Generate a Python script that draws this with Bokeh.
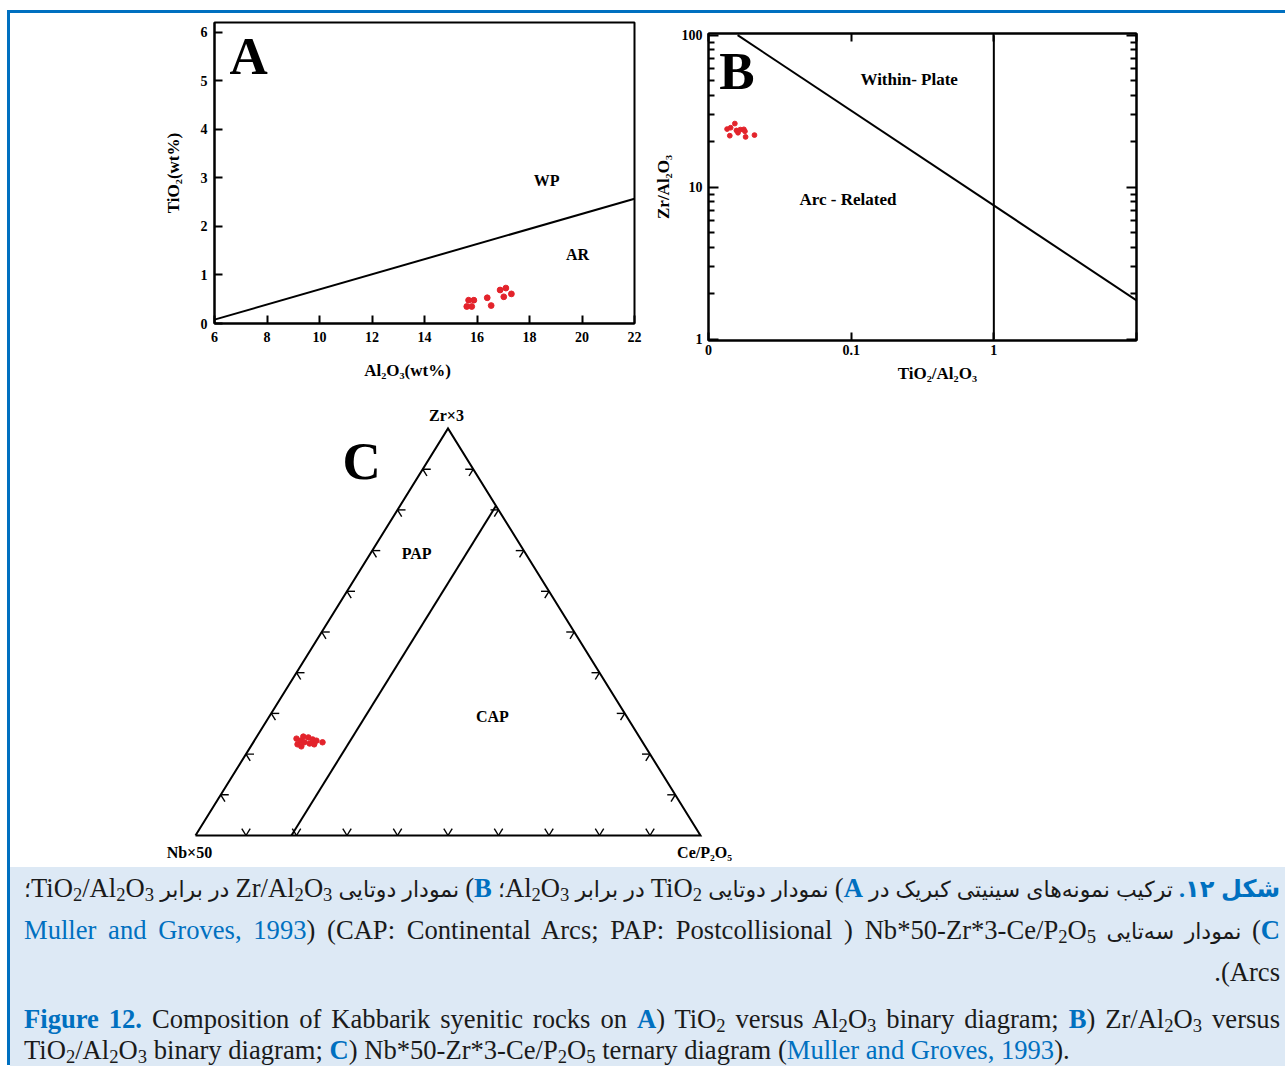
import numpy as np
from bokeh.plotting import figure
from bokeh.models import Range1d, FixedTicker, LogAxis, Label, Div
from bokeh.layouts import column, row
from bokeh.embed import file_html
from bokeh.resources import INLINE

FONT = "Liberation Serif"
RED = "#e3232b"
BLUE = "#0070c0"
NB = "\u00a0"

# ---------------- Panel A : TiO2 vs Al2O3 ----------------
a_al2o3 = [15.68, 15.88, 15.61, 15.80, 16.39, 16.54, 16.88, 17.10, 17.02, 17.31]
a_tio2 = [0.48, 0.48, 0.35, 0.35, 0.53, 0.37, 0.69, 0.73, 0.55, 0.61]
a_boundary_x = [6, 22]
a_boundary_y = [0.08, 2.57]
a_x_ticks = [6, 8, 10, 12, 14, 16, 18, 20, 22]
a_y_ticks = [0, 1, 2, 3, 4, 5, 6]

# ---------------- Panel B : Zr/Al2O3 vs TiO2/Al2O3 ----------------
b_tio2_al2o3 = [0.0135, 0.0143, 0.0153, 0.0157, 0.0161, 0.0167, 0.0177, 0.0180,
                0.0182, 0.0141, 0.0210]
b_zr_al2o3 = [24.1, 24.6, 26.2, 23.6, 22.8, 23.9, 24.0, 23.3, 21.4, 21.8, 22.0]
b_boundary_x = [0.016, 10]
b_boundary_y = [100, 1.8]
b_vline_x = [1, 1]
b_vline_y = [1, 100]
b_x_ticks = [0.01, 0.1, 1, 10]
b_x_tick_labels = ["0", "0.1", "1", ""]
b_y_ticks = [1, 10, 100]
b_y_tick_labels = ["1", "10", "100"]
b_y_minor_ticks = [2, 3, 4, 5, 6, 7, 8, 9, 20, 30, 40, 50, 60, 70, 80, 90]

# ---------------- Panel C : ternary Nb*50 - Zr*3 - Ce/P2O5 ----------------
c_nb50 = [68.1, 68.6, 67.5, 68.1, 66.5, 67.0, 65.6, 66.1, 65.0, 65.3, 64.4, 63.4]
c_zr3 = [23.8, 22.4, 23.3, 21.9, 24.3, 22.9, 24.1, 22.6, 23.6, 22.4, 23.3, 22.9]
c_cep2o5 = [8.1, 9.0, 9.2, 10.0, 9.2, 10.1, 10.3, 11.3, 11.4, 12.3, 12.3, 13.7]
c_boundary_ce = 19.0          # PAP / CAP boundary: constant Ce/P2O5 (%)
c_tick_fracs = [0.1, 0.2, 0.3, 0.4, 0.5, 0.6, 0.7, 0.8, 0.9]


def tern_xy(nb, zr, ce):
    nb = np.asarray(nb, float)
    zr = np.asarray(zr, float)
    ce = np.asarray(ce, float)
    s = nb + zr + ce
    return (ce + zr / 2.0) / s, zr / s


def style_axis(ax, tick_in=7, label_standoff=6, axis_standoff=10, size="14px"):
    ax.axis_line_width = 2
    ax.axis_line_color = "black"
    ax.major_tick_in = tick_in
    ax.major_tick_out = 0
    ax.major_tick_line_width = 2
    ax.major_tick_line_color = "black"
    ax.minor_tick_in = 0
    ax.minor_tick_out = 0
    ax.major_label_text_font = FONT
    ax.major_label_text_font_style = "bold"
    ax.major_label_text_font_size = size
    ax.major_label_text_color = "black"
    ax.major_label_standoff = label_standoff
    ax.axis_label_text_font = FONT
    ax.axis_label_text_font_style = "bold"
    ax.axis_label_text_font_size = "17px"
    ax.axis_label_text_color = "black"
    ax.axis_label_standoff = axis_standoff


def add_text(p, x, y, text, size):
    p.add_layout(Label(x=x, y=y, text=text, text_font=FONT, text_font_style="bold",
                       text_font_size=size, text_align="center", text_baseline="middle",
                       text_color="black"))


# ---------- figure A ----------
p_a = figure(width=640, height=382, x_range=Range1d(6, 22), y_range=Range1d(0, 6.2),
             output_backend="svg", toolbar_location=None, title=None,
             min_border_left=204, min_border_right=16, min_border_top=9, min_border_bottom=72)
p_a.frame_align = False
p_a.grid.visible = False
p_a.outline_line_color = "black"
p_a.outline_line_width = 2
p_a.xaxis.ticker = FixedTicker(ticks=a_x_ticks)
p_a.yaxis.ticker = FixedTicker(ticks=a_y_ticks)
p_a.xaxis.axis_label = "Al₂O₃(wt%)" + NB * 8
p_a.yaxis.axis_label = "TiO₂(wt%)"
style_axis(p_a.xaxis[0], tick_in=8, label_standoff=8, axis_standoff=16)
style_axis(p_a.yaxis[0], tick_in=8, label_standoff=7, axis_standoff=15)
p_a.line(a_boundary_x, a_boundary_y, line_color="black", line_width=2)
p_a.scatter(a_al2o3, a_tio2, size=5.8, fill_color=RED, line_color=RED)
add_text(p_a, 7.30, 5.52, "A", "53px")
add_text(p_a, 18.65, 2.95, "WP", "16px")
add_text(p_a, 19.83, 1.42, "AR", "16px")

# ---------- figure B ----------
p_b = figure(width=635, height=382, x_axis_type="log", y_axis_type="log",
             x_range=Range1d(0.01, 10), y_range=Range1d(0.98, 102.5),
             output_backend="svg", toolbar_location=None, title=None,
             min_border_left=50, min_border_right=149, min_border_top=20, min_border_bottom=55)
p_b.frame_align = False
p_b.grid.visible = False
p_b.outline_line_color = "black"
p_b.outline_line_width = 2
p_b.xaxis.ticker = FixedTicker(ticks=b_x_ticks)
p_b.xaxis.major_label_overrides = dict(zip(b_x_ticks, b_x_tick_labels))
p_b.yaxis.ticker = FixedTicker(ticks=b_y_ticks, minor_ticks=b_y_minor_ticks)
p_b.yaxis.major_label_overrides = dict(zip(b_y_ticks, b_y_tick_labels))
p_b.xaxis.axis_label = NB * 7 + "TiO₂/Al₂O₃"
p_b.yaxis.axis_label = "Zr/Al₂O₃"
style_axis(p_b.xaxis[0], tick_in=8, label_standoff=4, axis_standoff=6)
style_axis(p_b.yaxis[0], tick_in=10, label_standoff=6, axis_standoff=6)
p_b.yaxis.minor_tick_in = 6
p_b.yaxis.minor_tick_line_width = 2
p_b.yaxis.minor_tick_line_color = "black"

right_ax = LogAxis(ticker=FixedTicker(ticks=b_y_ticks, minor_ticks=b_y_minor_ticks),
                   major_label_overrides={t: "" for t in b_y_ticks})
style_axis(right_ax, tick_in=10)
right_ax.minor_tick_in = 6
right_ax.minor_tick_line_width = 2
right_ax.minor_tick_line_color = "black"
p_b.add_layout(right_ax, "right")
top_ax = LogAxis(ticker=FixedTicker(ticks=b_x_ticks),
                 major_label_overrides={t: "" for t in b_x_ticks})
style_axis(top_ax, tick_in=8)
p_b.add_layout(top_ax, "above")

p_b.line(b_vline_x, b_vline_y, line_color="black", line_width=2)
p_b.line(b_boundary_x, b_boundary_y, line_color="black", line_width=2)
p_b.scatter(b_tio2_al2o3, b_zr_al2o3, size=4.8, fill_color=RED, line_color=RED)
add_text(p_b, 0.0158, 58.0, "B", "53px")
add_text(p_b, 0.255, 51.2, "Within- Plate", "17px")
add_text(p_b, 0.0950, 8.28, "Arc - Related", "17px")

# ---------- figure C (ternary) ----------
cx0, cx1 = -0.36634, 2.15842
cy0, cy1 = -0.07617, 1.08108
C_W, C_H = 1275, 471
p_c = figure(width=C_W, height=C_H, x_range=Range1d(cx0, cx1), y_range=Range1d(cy0, cy1),
             output_backend="svg", toolbar_location=None, title=None,
             x_axis_location=None, y_axis_location=None, min_border=0)
p_c.frame_align = False
p_c.grid.visible = False
p_c.outline_line_color = None

tx, ty = tern_xy([100, 0, 0, 100], [0, 100, 0, 0], [0, 0, 100, 0])
p_c.line(tx, ty, line_color="black", line_width=2, line_join="miter")
bx, by = tern_xy([100 - c_boundary_ce, 0], [0, 100 - c_boundary_ce], [c_boundary_ce, c_boundary_ce])
p_c.line(bx, by, line_color="black", line_width=2)

# chevron ticks every 10 % along the edges
sx = C_W / (cx1 - cx0)
sy = C_H / (cy1 - cy0)
ARM = 8.0


def unit(dx_px, dy_px):
    n = np.hypot(dx_px, dy_px)
    return (dx_px / n) * ARM / sx, (dy_px / n) * ARM / sy


u_left = unit(0.5 * sx, sy)      # parallel to left edge, upward
u_right = unit(-0.5 * sx, sy)    # parallel to right edge, upward
u_h = unit(sx, 0.0)              # horizontal
t = np.array(c_tick_fracs)
x0s, y0s, x1s, y1s = [], [], [], []
bxs, bys = tern_xy(1 - t, 0 * t, t)
for dx, dy in (u_left, u_right):
    x0s += list(bxs); y0s += list(bys)
    x1s += list(bxs + dx); y1s += list(bys + dy)
lxs, lys = tern_xy(1 - t, t, 0 * t)
for dx, dy in (u_h, (-u_right[0], -u_right[1])):
    x0s += list(lxs); y0s += list(lys)
    x1s += list(lxs + dx); y1s += list(lys + dy)
rxs, rys = tern_xy(0 * t, t, 1 - t)
for dx, dy in ((-u_h[0], -u_h[1]), (-u_left[0], -u_left[1])):
    x0s += list(rxs); y0s += list(rys)
    x1s += list(rxs + dx); y1s += list(rys + dy)
p_c.segment(x0s, y0s, x1s, y1s, line_color="black", line_width=1.4)

px, py = tern_xy(c_nb50, c_zr3, c_cep2o5)
p_c.scatter(px, py, size=5.5, fill_color=RED, line_color=RED)

add_text(p_c, 0.497, 1.032, "Zr×3", "16px")
add_text(p_c, -0.012, -0.042, "Nb×50", "16px")
add_text(p_c, 1.008, -0.042, "Ce/P₂O₅", "16px")
add_text(p_c, 0.329, 0.92, "C", "53px")
add_text(p_c, 0.438, 0.693, "PAP", "16px")
add_text(p_c, 0.588, 0.292, "CAP", "16px")

# ---------- caption ----------
TiO2 = "TiO<sub>2</sub>"
Al2O3 = "Al<sub>2</sub>O<sub>3</sub>"
P2O5 = "P<sub>2</sub>O<sub>5</sub>"


def la(s):
    return f"<span class='la'>{s}</span>"


def key(letter):
    return la(f"<b class='bl'>{letter}</b>)")


fa1 = (f"<b class='bl hd'>شکل ۱۲.</b> ترکیب نمونه\u200cهای سینیتی کبریک در "
       f"{key('A')} نمودار دوتایی {la(TiO2)} در برابر {la(Al2O3)}؛ "
       f"{key('B')} نمودار دوتایی {la('Zr/' + Al2O3)} در برابر "
       f"{la(TiO2 + '/' + Al2O3)}؛")
fa2 = (f"{key('C')} نمودار سه\u200cتایی "
       + la(f"Nb*50-Zr*3-Ce/{P2O5}\u200f (<span dir='ltr'><span class='bl'>Muller and Groves, 1993</span>) "
            f"(CAP: Continental Arcs; PAP: Postcollisional\u00a0</span>"))
fa3 = la("Arcs).")
en1 = (f"<b class='bl'>Figure 12.</b> Composition of Kabbarik syenitic rocks on "
       f"<b class='bl'>A</b>) {TiO2} versus {Al2O3} binary diagram; <b class='bl'>B</b>) "
       f"Zr/{Al2O3} versus")
en2 = (f"{TiO2}/{Al2O3} binary diagram; <b class='bl'>C</b>) Nb*50-Zr*3-Ce/{P2O5} ternary "
       f"diagram (<span class='bl'>Muller and Groves, 1993</span>).")

css = """<style>
.cap{font-family:'Liberation Serif','DejaVu Sans',serif;color:#1a1a1a;width:1275px;height:199px;
     box-sizing:border-box;padding:0 5px 0 14px;background:#dde9f5;overflow:visible}
.fa{direction:rtl;font-size:22px;height:42px;line-height:42px;text-align:justify;
    text-align-last:justify;white-space:nowrap}
.la{font-size:26.6px}
.hd{font-size:24px}
.fa1{margin-top:1px}
.fa3{text-align:right;text-align-last:right}
.en{font-size:26.6px;line-height:30px;height:30px;text-align:justify;text-align-last:justify;
    white-space:nowrap}
.en1{margin-top:11px}
.en2{text-align:left;text-align-last:left;margin-top:3px;line-height:26px;height:26px}
.bl{color:#0070c0}
sub{font-size:70%;line-height:0;vertical-align:-0.2em}
</style>"""
html = (css + "<div class='cap'>"
        f"<div class='fa fa1'>{fa1}</div>"
        f"<div class='fa'>{fa2}</div>"
        f"<div class='fa fa3'>{fa3}</div>"
        f"<div class='en en1'>{en1}</div>"
        f"<div class='en en2'>{en2}</div>"
        "</div>")
caption = Div(text=html, width=1275, height=199, margin=0)

layout = column(row(p_a, p_b), p_c, caption,
                styles={"border-top": f"3px solid {BLUE}", "border-left": f"3px solid {BLUE}",
                        "margin-top": "10px", "margin-left": "7px"})

open("out.html", "w", encoding="utf-8").write(file_html(layout, INLINE))
